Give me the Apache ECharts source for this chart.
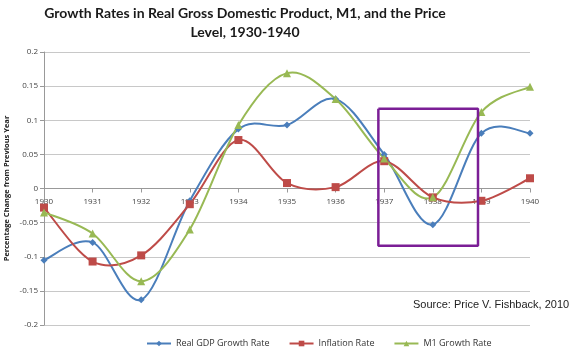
<!DOCTYPE html>
<html>
<head>
<meta charset="utf-8">
<script src="https://cdn.jsdelivr.net/npm/echarts@6/dist/echarts.min.js"></script>
<style>html,body{margin:0;padding:0;background:#fff}#c{width:585px;height:355px}</style>
</head>
<body>
<div id="c"></div>
<script>
const years = ['1930', '1931', '1932', '1933', '1934', '1935', '1936', '1937', '1938', '1939', '1940'];
const gdpGrowth = [-0.105, -0.079, -0.163, -0.018, 0.087, 0.093, 0.131, 0.050, -0.053, 0.081, 0.081];
const inflation = [-0.028, -0.107, -0.098, -0.023, 0.071, 0.008, 0.002, 0.040, -0.013, -0.018, 0.015];
const m1Growth = [-0.035, -0.066, -0.136, -0.060, 0.093, 0.169, 0.131, 0.044, -0.013, 0.112, 0.149];
const boxYears = [1936.88, 1938.93];
const boxValues = [-0.084, 0.117];

const yearNums = years.map(Number);
const boxData = [
  [boxYears[0], boxValues[1]], [boxYears[1], boxValues[1]],
  [boxYears[1], boxValues[0]], [boxYears[0], boxValues[0]],
  [boxYears[0], boxValues[1]]
];

const colors = {gdp: '#4a7ebb', inf: '#be4b48', m1: '#98b954'};

// Excel-like smoothed curve (Catmull-Rom) through points mapped by the chart's own axes
function curveSeries(values, color) {
  return {
    type: 'custom', xAxisIndex: 1, yAxisIndex: 0, z: 2, silent: true,
    data: [0],
    renderItem: function (params, api) {
      const p = yearNums.map((y, i) => api.coord([y, values[i]]));
      const n = p.length;
      let d = 'M' + p[0][0] + ' ' + p[0][1];
      for (let i = 0; i < n - 1; i++) {
        const p0 = p[Math.max(i - 1, 0)], p1 = p[i], p2 = p[i + 1], p3 = p[Math.min(i + 2, n - 1)];
        const c1 = [p1[0] + (p2[0] - p0[0]) / 6, p1[1] + (p2[1] - p0[1]) / 6];
        const c2 = [p2[0] - (p3[0] - p1[0]) / 6, p2[1] - (p3[1] - p1[1]) / 6];
        d += ' C' + c1[0] + ' ' + c1[1] + ' ' + c2[0] + ' ' + c2[1] + ' ' + p2[0] + ' ' + p2[1];
      }
      return {
        type: 'path',
        shape: {pathData: d},
        style: {fill: null, stroke: color, lineWidth: 2}
      };
    }
  };
}

const markerSeries = (name, data, color, symbol, size) => ({
  name, type: 'line', data, smooth: false,
  symbol, symbolSize: size, showSymbol: true,
  lineStyle: {color, width: 2, opacity: 0}, itemStyle: {color},
  z: 3
});

const chart = echarts.init(document.getElementById('c'), null, {renderer: 'canvas'});
chart.setOption({
  animation: false,
  backgroundColor: '#ffffff',
  title: [{
    text: 'Growth Rates in Real Gross Domestic Product, M1, and the Price\nLevel, 1930-1940',
    left: 240, top: -1, textAlign: 'center',
    textStyle: {fontFamily: 'Lato', fontWeight: 'bold', fontSize: 14, color: '#1a1a1a', lineHeight: 19}
  }, {
    text: 'Source: Price V. Fishback, 2010',
    left: 408, top: 294,
    textStyle: {fontFamily: 'Liberation Sans', fontWeight: 'normal', fontSize: 11, color: '#222'}
  }],
  legend: {
    data: ['Real GDP Growth Rate', 'Inflation Rate', 'M1 Growth Rate'],
    left: 141, top: 334, itemGap: 19, itemWidth: 24, itemHeight: 7,
    lineStyle: {opacity: 1, width: 2},
    textStyle: {fontFamily: 'Open Sans', fontSize: 9, color: '#333'}
  },
  grid: {left: 44, right: 55, top: 52, bottom: 30, containLabel: false, outerBoundsMode: 'none'},
  xAxis: [{
    type: 'category', data: years, boundaryGap: false,
    position: 'bottom', offset: -136.5,
    axisLine: {onZero: false, lineStyle: {color: '#999', width: 1}},
    axisTick: {show: true, length: 4, alignWithLabel: true, lineStyle: {color: '#999'}},
    splitLine: {show: false},
    axisLabel: {fontFamily: 'Open Sans', fontSize: 8, color: '#444', margin: 9}
  }, {
    type: 'value', min: 1930, max: 1940, show: false,
    axisLine: {onZero: false}, splitLine: {show: false}
  }],
  yAxis: {
    type: 'value', min: -0.2, max: 0.2, interval: 0.05,
    name: 'Percentage Change from Previous Year', nameLocation: 'middle', nameGap: 33,
    nameMoveOverlap: false,
    nameTextStyle: {fontFamily: 'Open Sans', fontWeight: 'bold', fontSize: 7.5, color: '#222'},
    axisLine: {show: true, onZero: false, lineStyle: {color: '#999'}},
    axisTick: {show: true, length: 4, lineStyle: {color: '#999'}},
    splitLine: {lineStyle: {color: '#c8c8c8', width: 1}},
    axisLabel: {formatter: v => String(Math.round(v * 100) / 100), fontFamily: 'Open Sans', fontSize: 8, color: '#444', margin: 6}
  },
  series: [
    curveSeries(gdpGrowth, colors.gdp),
    curveSeries(inflation, colors.inf),
    curveSeries(m1Growth, colors.m1),
    markerSeries('Real GDP Growth Rate', gdpGrowth, colors.gdp, 'diamond', 7),
    markerSeries('Inflation Rate', inflation, colors.inf, 'rect', 8),
    markerSeries('M1 Growth Rate', m1Growth, colors.m1, 'triangle', 8),
    {
      name: 'box', type: 'line', xAxisIndex: 1, data: boxData, symbol: 'none', smooth: false,
      lineStyle: {color: '#7b1e96', width: 2.5}, z: 4
    }
  ]
});
</script>
</body>
</html>
